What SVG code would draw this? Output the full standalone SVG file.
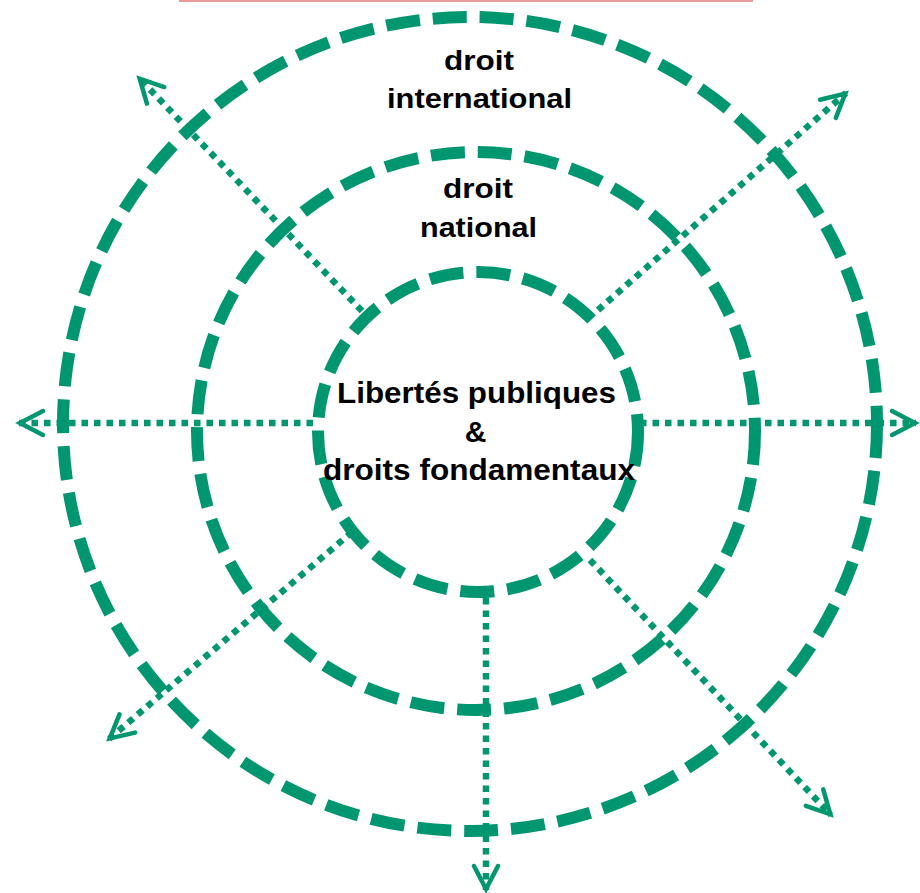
<svg xmlns="http://www.w3.org/2000/svg" width="920" height="893" viewBox="0 0 920 893">
  <style>
    .ring { fill: none; stroke: #009670; stroke-width: 12; stroke-dasharray: 34 13; }
    .arrow { fill: none; stroke: #009670; stroke-width: 6.5; stroke-dasharray: 6.5 6; marker-end: url(#chev); }
    .lbl { font-family: "Liberation Sans", Arial, sans-serif; font-weight: bold; fill: #000; text-anchor: middle; }
    .l28 { font-size: 28px; }
    .l30 { font-size: 30px; }
  </style>
  <defs>
    <marker id="chev" viewBox="-30 -16 34 32" markerWidth="34" markerHeight="32" refX="0" refY="0" orient="auto" markerUnits="userSpaceOnUse">
      <path d="M-24,-12 L-1,0 L-24,12" fill="none" stroke="#009670" stroke-width="4.5" stroke-linejoin="miter" stroke-linecap="round"/>
    </marker>
  </defs>
  <rect width="920" height="893" fill="#ffffff"/>
  <line x1="179" y1="1" x2="753" y2="1" stroke="#E89A9A" stroke-width="2"/>

  <g id="outer-ring">
    <circle class="ring" cx="470" cy="424" r="407"/>
    <text class="lbl l28" x="479" y="70" textLength="70" lengthAdjust="spacingAndGlyphs">droit</text>
    <text class="lbl l28" x="479.5" y="108" textLength="185" lengthAdjust="spacingAndGlyphs">international</text>
  </g>
  <g id="middle-ring">
    <circle class="ring" cx="476" cy="431" r="279"/>
    <text class="lbl l28" x="478" y="198" textLength="70" lengthAdjust="spacingAndGlyphs">droit</text>
    <text class="lbl l28" x="478.5" y="237" textLength="117" lengthAdjust="spacingAndGlyphs">national</text>
  </g>
  <g id="inner-ring">
    <circle class="ring" cx="478" cy="432" r="160"/>
    <text class="lbl l30" x="476.5" y="403" textLength="279" lengthAdjust="spacingAndGlyphs">Libertés publiques</text>
    <text class="lbl l30" x="475.5" y="442">&amp;</text>
    <text class="lbl l30" x="479" y="480" textLength="312" lengthAdjust="spacingAndGlyphs">droits fondamentaux</text>
  </g>

  <g id="connectors">
    <line class="arrow" x1="313" y1="423" x2="19" y2="423"/>
    <line class="arrow" x1="640" y1="423" x2="916" y2="423"/>
    <line class="arrow" x1="486" y1="598" x2="486" y2="890"/>
    <line class="arrow" x1="362" y1="311" x2="139" y2="78"/>
    <line class="arrow" x1="598" y1="310" x2="846" y2="93"/>
    <line class="arrow" x1="352" y1="532" x2="109" y2="739"/>
    <line class="arrow" x1="590" y1="560" x2="831" y2="815"/>
  </g>
</svg>
